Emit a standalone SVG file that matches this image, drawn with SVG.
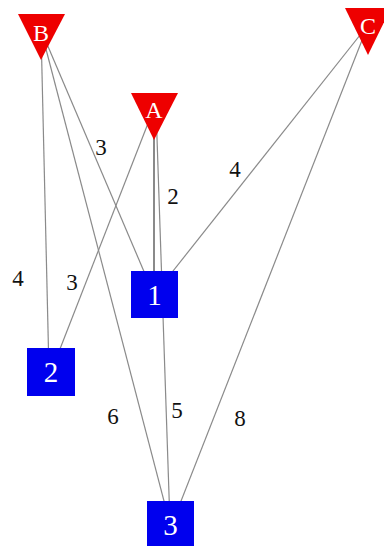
<svg xmlns="http://www.w3.org/2000/svg" width="384" height="546" viewBox="0 0 384 546">
<style>
.e{stroke:#8a8a8a;stroke-width:1.2;fill:none}
.lbl{font-family:"Liberation Serif","DejaVu Serif",serif;font-size:23px;fill:#111;text-anchor:middle}
.tri{fill:#ee0000}
.sq{fill:#0000ee}
.nt{font-family:"Liberation Serif","DejaVu Serif",serif;fill:#fff;text-anchor:middle}
</style>
<rect width="384" height="546" fill="#fff"/>
<g id="edges">
<line class="e" x1="41" y1="30" x2="154" y2="295"/>
<line class="e" x1="41" y1="30" x2="49" y2="372"/>
<line class="e" x1="41" y1="30" x2="170" y2="524"/>
<line class="e" x1="154" y1="108" x2="51" y2="372"/>
<line class="e" x1="154" y1="108" x2="154" y2="295" style="stroke-width:2"/>
<line class="e" x1="156" y1="108" x2="170" y2="524"/>
<line class="e" x1="368" y1="25" x2="154" y2="295"/>
<line class="e" x1="368" y1="25" x2="172" y2="524"/>
</g>
<g id="edge-labels">
<text class="lbl" x="101" y="155">3</text>
<text class="lbl" x="235" y="177">4</text>
<text class="lbl" x="173" y="204">2</text>
<text class="lbl" x="18" y="286">4</text>
<text class="lbl" x="72" y="290">3</text>
<text class="lbl" x="113" y="424">6</text>
<text class="lbl" x="177" y="418">5</text>
<text class="lbl" x="240" y="426">8</text>
</g>
<g id="B"><polygon class="tri" points="18,14 65,14 41,60"/><text class="nt" x="41" y="41" font-size="24">B</text></g>
<g id="A"><polygon class="tri" points="131,93 178,93 154,140"/><text class="nt" x="154" y="118" font-size="24">A</text></g>
<g id="C"><polygon class="tri" points="345,8 391,8 368,55"/><text class="nt" x="368" y="34" font-size="24">C</text></g>
<g id="n1"><rect class="sq" x="131" y="271" width="47" height="47"/><text class="nt" x="154.5" y="305" font-size="29">1</text></g>
<g id="n2"><rect class="sq" x="27" y="348" width="48" height="48"/><text class="nt" x="51" y="382" font-size="29">2</text></g>
<g id="n3"><rect class="sq" x="147" y="501" width="47" height="47"/><text class="nt" x="170.5" y="535" font-size="29">3</text></g>
</svg>
